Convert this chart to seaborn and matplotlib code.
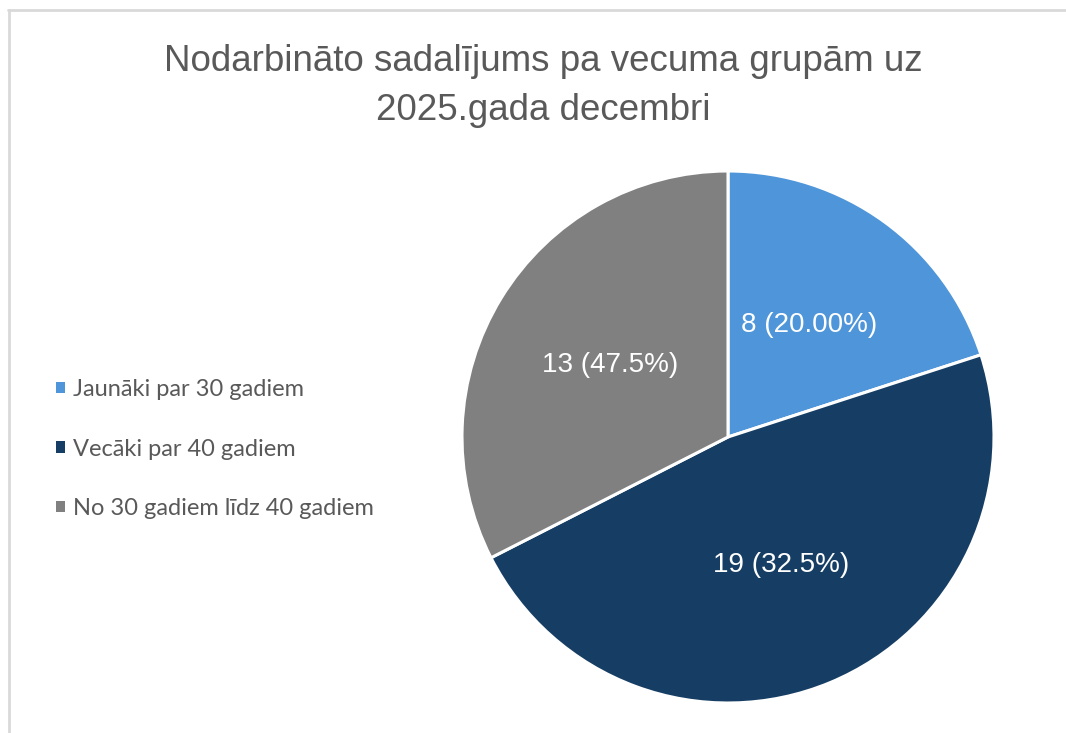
import matplotlib
matplotlib.use("Agg")
import matplotlib.pyplot as plt
from matplotlib.lines import Line2D
import seaborn as sns

sns.set_theme(style="white")

# data
categories = ["Jaunāki par 30 gadiem", "Vecāki par 40 gadiem", "No 30 gadiem līdz 40 gadiem"]
counts = [8, 19, 13]
slice_labels = ["8 (20.00%)", "19 (32.5%)", "13 (47.5%)"]
colors = ["#4E95D9", "#163E64", "#808080"]
title = "Nodarbināto sadalījums pa vecuma grupām uz\n2025.gada decembri"

W, H = 1066, 733
fig = plt.figure(figsize=(W / 100, H / 100), dpi=100)
fig.patch.set_facecolor("white")

# pie axes: centre (728, 437) px, radius ~266 px
cx, cy, r = 728, 437, 266
ax = fig.add_axes([(cx - r) / W, (H - cy - r) / H, 2 * r / W, 2 * r / H])
wedges, texts = ax.pie(
    counts,
    labels=slice_labels,
    colors=colors,
    startangle=90,
    counterclock=False,
    labeldistance=0.52,
    wedgeprops=dict(edgecolor="white", linewidth=2.2),
    textprops=dict(color="white", fontsize=20, family=["Liberation Sans", "DejaVu Sans"]),
)
for t in texts:
    t.set_horizontalalignment("center")
    t.set_verticalalignment("center")
ax.set_xlim(-1.0, 1.0)
ax.set_ylim(-1.0, 1.0)
ax.set_aspect("equal")
ax.axis("off")

fig.text(543 / W, 1 - 86 / H, title, ha="center", va="center", fontsize=26.5,
         color="#595959", linespacing=1.5, family=["Liberation Sans", "DejaVu Sans"])

leg = fig.legend(
    wedges, categories,
    loc="center left", bbox_to_anchor=(56 / W, 1 - 449 / H),
    frameon=False, labelcolor="#595959",
    handlelength=0.36, handleheight=0.36, handletextpad=0.35,
    labelspacing=1.62, borderpad=0, borderaxespad=0,
    prop=dict(family=["Lato", "DejaVu Sans"], size=17),
)
for h in leg.legend_handles:
    h.set_edgecolor("none")

# light frame lines (top and left) as in the screenshot
fig.add_artist(Line2D([8 / W, 1], [1 - 10 / H, 1 - 10 / H], color="#D9D9D9", lw=2, transform=fig.transFigure))
fig.add_artist(Line2D([9 / W, 9 / W], [0, 1 - 10 / H], color="#D9D9D9", lw=2, transform=fig.transFigure))

fig.savefig("out.png", dpi=100, facecolor="white")
